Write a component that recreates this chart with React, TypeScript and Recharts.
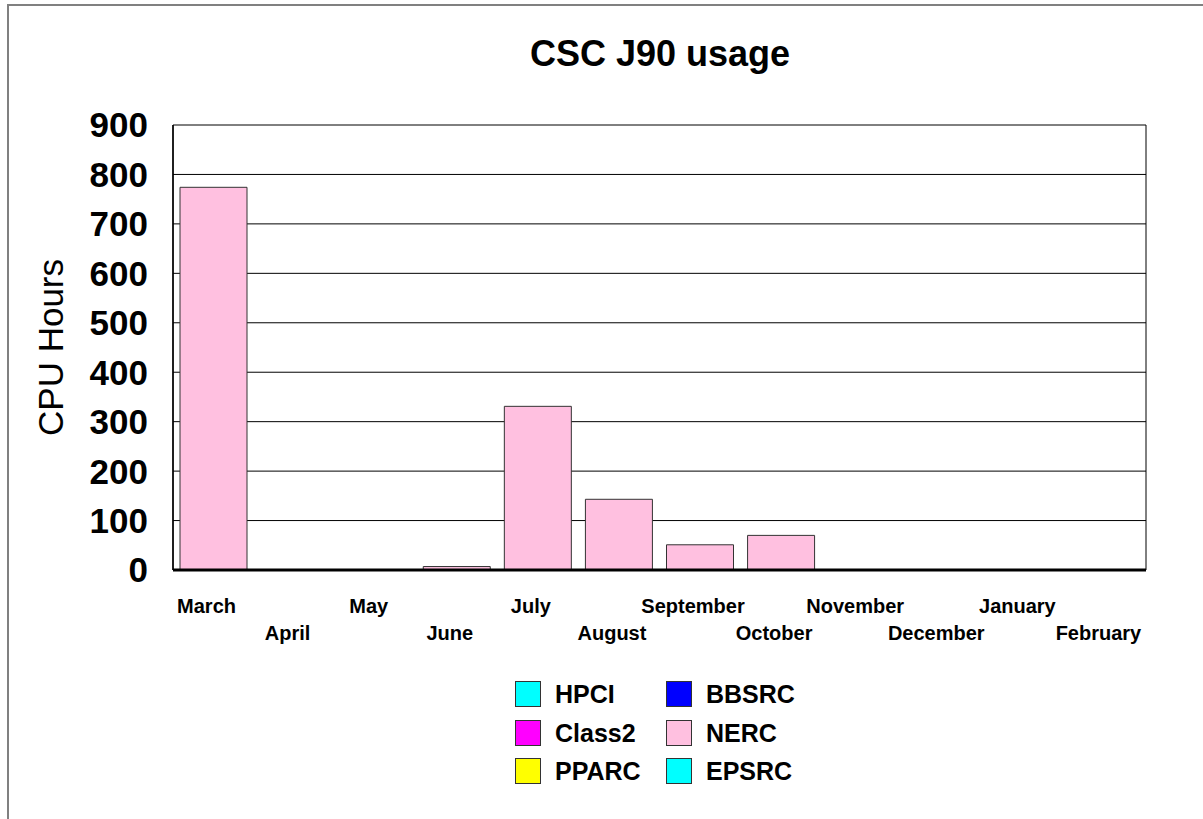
import { BarChart, Bar, XAxis, YAxis, CartesianGrid, Legend } from 'recharts'

const months = [
    'March', 'April', 'May', 'June', 'July', 'August',
    'September', 'October', 'November', 'December', 'January', 'February',
]

const hpci = [0, 0, 0, 0, 0, 0, 0, 0, 0, 0, 0, 0]
const class2 = [0, 0, 0, 0, 0, 0, 0, 0, 0, 0, 0, 0]
const pparc = [0, 0, 0, 0, 0, 0, 0, 0, 0, 0, 0, 0]
const bbsrc = [0, 0, 0, 0, 0, 0, 0, 0, 0, 0, 0, 0]
const nerc = [774, 0, 0, 7, 331, 143, 51, 70, 0, 0, 0, 0]
const epsrc = [0, 0, 0, 0, 0, 0, 0, 0, 0, 0, 0, 0]

const yTicks = [0, 100, 200, 300, 400, 500, 600, 700, 800, 900]

const series = [
    { key: 'HPCI', values: hpci, color: '#00FFFF' },
    { key: 'Class2', values: class2, color: '#FF00FF' },
    { key: 'PPARC', values: pparc, color: '#FFFF00' },
    { key: 'BBSRC', values: bbsrc, color: '#0000FF' },
    { key: 'NERC', values: nerc, color: '#FFC0E0' },
    { key: 'EPSRC', values: epsrc, color: '#00FFFF' },
]

const data = months.map((month, i) => {
    const row: Record<string, string | number> = { month }
    series.forEach((s) => {
        row[s.key] = s.values[i]
    })
    return row
})

const FONT = '"Liberation Sans", Arial, Helvetica, sans-serif'

function MonthTick(props: any) {
    const { x, y, payload, index } = props
    return (
        <text
            x={x - 7}
            y={y + (index % 2 ? 70 : 42.5)}
            textAnchor="middle"
            fontSize={20}
            fontWeight="bold"
            fontFamily={FONT}
            fill="#000"
        >
            {payload.value}
        </text>
    )
}

function LegendBox() {
    return (
        <div style={{ position: 'relative', width: 320, height: 110 }}>
            {series.map((s, i) => {
                const col = Math.floor(i / 3)
                const row = i % 3
                return (
                    <div
                        key={s.key}
                        style={{
                            position: 'absolute',
                            left: col * 151,
                            top: row * 38.5,
                            display: 'flex',
                            alignItems: 'center',
                            height: 26,
                        }}
                    >
                        <span
                            style={{
                                width: 24,
                                height: 24,
                                backgroundColor: s.color,
                                border: '1px solid #333',
                                display: 'inline-block',
                            }}
                        />
                        <span
                            style={{
                                marginLeft: 14,
                                fontFamily: FONT,
                                fontWeight: 'bold',
                                fontSize: 25,
                                color: '#000',
                                lineHeight: '26px',
                            }}
                        >
                            {s.key}
                        </span>
                    </div>
                )
            })}
        </div>
    )
}

export default function App() {
    return (
        <div
            style={{
                position: 'fixed',
                left: 0,
                top: 0,
                width: 1203,
                height: 819,
                overflow: 'hidden',
                background: '#fff',
            }}
        >
            <div
                style={{
                    position: 'absolute',
                    left: 7,
                    top: 4,
                    width: 1210,
                    height: 830,
                    borderTop: '2px solid #808080',
                    borderLeft: '2px solid #808080',
                }}
            />
            <div
                style={{
                    position: 'absolute',
                    left: 460,
                    top: 36,
                    width: 400,
                    textAlign: 'center',
                    fontFamily: FONT,
                    fontWeight: 'bold',
                    fontSize: 36,
                    lineHeight: '36px',
                    color: '#000',
                }}
            >
                CSC J90 usage
            </div>
            <div style={{ position: 'absolute', left: 0, top: 0 }}>
                <BarChart
                    width={1203}
                    height={819}
                    data={data}
                    margin={{ top: 125, right: 57, bottom: 149, left: 0 }}
                    barSize={67}
                >
                    <CartesianGrid
                        stroke="#000"
                        strokeWidth={1}
                        verticalCoordinatesGenerator={(p: any) => [
                            p.offset.left,
                            p.offset.left + p.offset.width,
                        ]}
                    />
                    <XAxis
                        dataKey="month"
                        height={100}
                        interval={0}
                        tickSize={0}
                        tickMargin={0}
                        tickLine={false}
                        axisLine={{ stroke: '#000', strokeWidth: 3 }}
                        tick={<MonthTick />}
                    />
                    <YAxis
                        width={173}
                        domain={[0, 900]}
                        ticks={yTicks}
                        interval={0}
                        tickSize={0}
                        tickMargin={25}
                        tickLine={false}
                        axisLine={{ stroke: '#000', strokeWidth: 1.5 }}
                        tick={{ fontSize: 35, fontWeight: 'bold', fill: '#000', fontFamily: FONT }}
                        label={{
                            content: (p: any) => {
                                const vb = p.viewBox
                                const cy = vb.y + vb.height / 2
                                return (
                                    <text
                                        x={63}
                                        y={cy}
                                        transform={`rotate(-90, 63, ${cy})`}
                                        textAnchor="middle"
                                        fontSize={35}
                                        fontFamily={FONT}
                                        fill="#000"
                                    >
                                        CPU Hours
                                    </text>
                                )
                            },
                        }}
                    />
                    <Legend
                        layout="horizontal"
                        verticalAlign="middle"
                        align="center"
                        wrapperStyle={{ left: 515, top: 681, width: 320, height: 110 }}
                        content={() => <LegendBox />}
                    />
                    {series.map((s) => (
                        <Bar
                            key={s.key}
                            dataKey={s.key}
                            stackId="usage"
                            fill={s.color}
                            stroke="#333"
                            strokeWidth={1}
                            isAnimationActive={false}
                        />
                    ))}
                </BarChart>
            </div>
        </div>
    )
}
